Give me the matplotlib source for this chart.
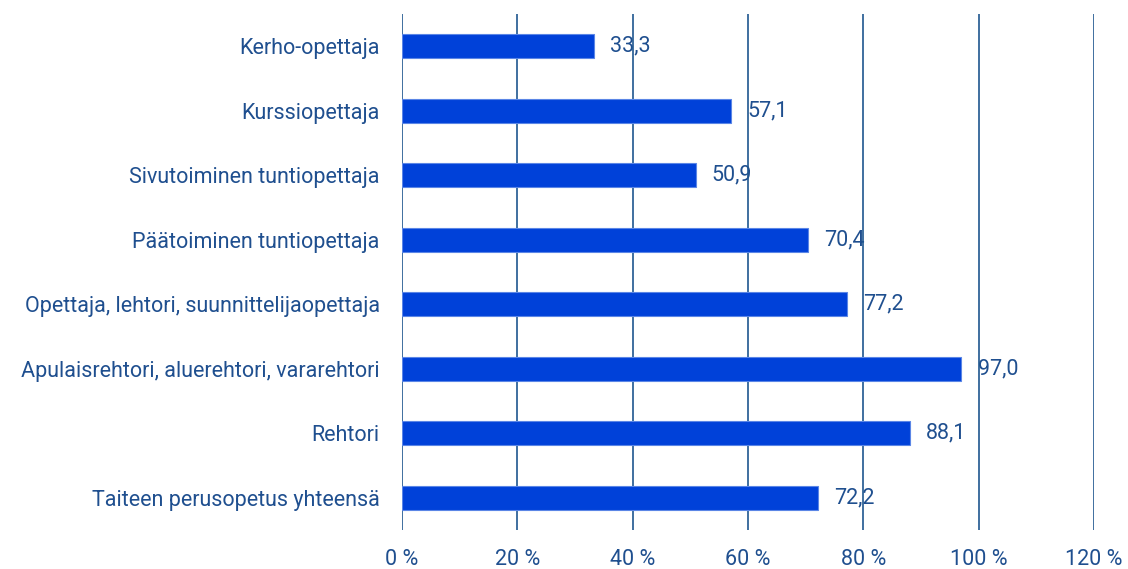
import matplotlib.pyplot as plt

# Data
categories = [
    "Kerho-opettaja",
    "Kurssiopettaja",
    "Sivutoiminen tuntiopettaja",
    "Päätoiminen tuntiopettaja",
    "Opettaja, lehtori, suunnittelijaopettaja",
    "Apulaisrehtori, aluerehtori, vararehtori",
    "Rehtori",
    "Taiteen perusopetus yhteensä",
]
values = [33.3, 57.1, 50.9, 70.4, 77.2, 97.0, 88.1, 72.2]
xticks = [0, 20, 40, 60, 80, 100, 120]
xtick_labels = ["0 %", "20 %", "40 %", "60 %", "80 %", "100 %", "120 %"]

text_color = "#1f4f8f"
grid_color = "#1f568f"
bar_color = "#0041d9"

plt.rcParams['font.family'] = ['Roboto', 'DejaVu Sans']

fig = plt.figure(figsize=(11.28, 5.69), dpi=100)
ax = fig.add_axes([402 / 1128, 1 - 530 / 569, (1094 - 402) / 1128, (530 - 14) / 569])

ypos = list(range(len(categories)))
ax.barh(ypos, values, height=0.37, color=bar_color, edgecolor="#5b86e6",
        linewidth=0.8, zorder=3)

# value labels
for y, v in zip(ypos, values):
    ax.text(v + 2.8, y, f"{v:.1f}".replace(".", ","), va="center", ha="left",
            fontsize=15.5, color=text_color, zorder=1)

ax.set_xlim(0, 120)
ax.set_ylim(len(categories) - 0.5, -0.5)
ax.set_yticks(ypos)
ax.set_yticklabels(categories)
ax.set_xticks(xticks)
ax.set_xticklabels(xtick_labels)
ax.tick_params(axis="both", length=0, labelsize=15.5, labelcolor=text_color)
ax.tick_params(axis="y", pad=16)
ax.tick_params(axis="x", pad=14)

for t in xticks:
    ax.axvline(t, color=grid_color, linewidth=1.2, zorder=2)

for s in ax.spines.values():
    s.set_visible(False)

plt.savefig("out.png", dpi=100)
